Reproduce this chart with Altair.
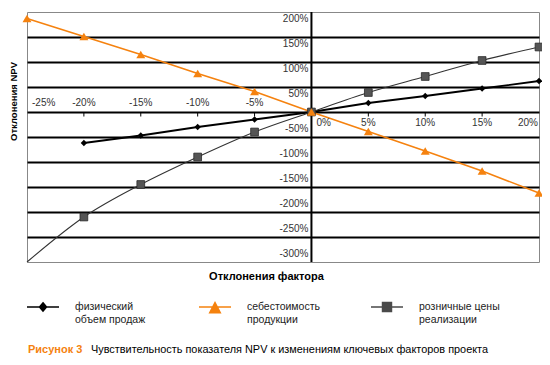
import altair as alt
import pandas as pd

FONT = "Liberation Sans"

# ---- data ----
factor = [-25, -20, -15, -10, -5, 0, 5, 10, 15, 20]
volume = [None, -62, -47, -30, -15, 0, 18, 32, 47, 62]        # физический объем продаж
cost = [187, 151, 115, 77, 41, 0, -39, -78, -118, -162]       # себестоимость продукции
price = [-300, -210, -145, -90, -40, 0, 39, 71, 103, 130]     # розничные цены реализации

series_names = ["физический|объем продаж", "себестоимость|продукции", "розничные цены|реализации"]
series_colors = ["#000000", "#F5820F", "#4A4A4A"]

x_ticks = [-25, -20, -15, -10, -5, 0, 5, 10, 15, 20]
x_tick_labels = ["-25%", "-20%", "-15%", "-10%", "-5%", "0%", "5%", "10%", "15%", "20%"]
y_ticks = [200, 150, 100, 50, -50, -100, -150, -200, -250, -300]
y_tick_labels = ["200%", "150%", "100%", "50%", "-50%", "-100%", "-150%", "-200%", "-250%", "-300%"]
grid_vals = [150, 100, 50, 0, -50, -100, -150, -200, -250]

x_title = "Отклонения фактора"
y_title = "Отклонения NPV"
caption_bold = ["Рисунок 3"]
caption_text = ["Чувствительность показателя NPV к изменениям ключевых факторов проекта"]

rows = []
for name, vals in zip(series_names, [volume, cost, price]):
    for f, v in zip(factor, vals):
        if v is not None:
            rows.append({"series": name, "factor": f, "value": v})
df = pd.DataFrame(rows)

xs = alt.Scale(domain=[-25, 20], nice=False, zero=False)
ys = alt.Scale(domain=[-300, 200], nice=False, zero=False)

AX_X = alt.Axis(
    title=x_title, labels=False, ticks=False, domain=False, grid=False,
    titleFont=FONT, titleFontSize=11, titleFontWeight="bold", titleColor="#000",
    titlePadding=8, titleX=239)
AX_Y = alt.Axis(
    title=y_title, values=grid_vals, labels=False, ticks=False, domain=False,
    grid=True, gridColor="#000", gridWidth=2, gridOpacity=1,
    titleFont=FONT, titleFontSize=9.5, titleFontWeight="bold", titleColor="#000",
    titleX=-14, titleY=89, titleBaseline="middle")

X = alt.X("factor:Q", scale=xs, axis=AX_X)
Y = alt.Y("value:Q", scale=ys, axis=AX_Y)

zero_v = alt.Chart(pd.DataFrame({"z": [0]})).mark_rule(color="#000", strokeWidth=2).encode(
    x=alt.X("z:Q", scale=xs, axis=AX_X)
)

tick_df = pd.DataFrame({"t": [t for t in x_ticks if t not in (-25, 0, 20)]})
x_tickmarks = alt.Chart(tick_df).mark_rule(color="#000", strokeWidth=1).encode(
    x=alt.X("t:Q", scale=xs, axis=AX_X),
    y=alt.YDatum(0, scale=ys, axis=AX_Y),
    y2=alt.Y2Datum(-9),
)

xlab_df = pd.DataFrame({"t": x_ticks, "label": x_tick_labels})


def xlabels(sel, align, baseline, dx, dy):
    d = xlab_df[xlab_df.t.isin(sel)]
    return alt.Chart(d).mark_text(
        align=align, baseline=baseline, dx=dx, dy=dy, font=FONT, fontSize=10, color="#333"
    ).encode(
        x=alt.X("t:Q", scale=xs, axis=AX_X),
        y=alt.YDatum(0, scale=ys, axis=AX_Y),
        text="label:N",
    )


ylab_df = pd.DataFrame({"v": y_ticks, "label": y_tick_labels})


def ylabels(pos, baseline, dy):
    d = ylab_df[(ylab_df.v > 0) if pos else (ylab_df.v < 0)]
    return alt.Chart(d).mark_text(
        align="right", baseline=baseline, dx=-3, dy=dy, font=FONT, fontSize=10, color="#333"
    ).encode(
        x=alt.XDatum(0, scale=xs, axis=AX_X),
        y=alt.Y("v:Q", scale=ys, axis=AX_Y),
        text="label:N",
    )


labels = [
    xlabels([-25], "left", "bottom", 5, -4),
    xlabels([-20, -15, -10, -5], "center", "bottom", 0, -4),
    xlabels([0], "left", "top", 5, 6),
    xlabels([5, 10, 15], "center", "top", 0, 6),
    xlabels([20], "right", "top", -1, 6),
    ylabels(True, "top", 2),
    ylabels(False, "bottom", -3),
]

s_vol, s_cost, s_price = series_names

line_vol = alt.Chart(df).transform_filter(alt.datum.series == s_vol).mark_line(
    color=series_colors[0], strokeWidth=1.8).encode(x=X, y=Y)
line_price = alt.Chart(df).transform_filter(alt.datum.series == s_price).mark_line(
    color="#333333", strokeWidth=1.1, interpolate="monotone").encode(x=X, y=Y)
line_cost = alt.Chart(df).transform_filter(alt.datum.series == s_cost).mark_line(
    color=series_colors[1], strokeWidth=1.6).encode(x=X, y=Y)

pt_vol = alt.Chart(df).transform_filter(alt.datum.series == s_vol).mark_point(
    shape="diamond", filled=True, size=40, color="#000", opacity=1).encode(x=X, y=Y)
pt_price = alt.Chart(df).transform_filter(
    (alt.datum.series == s_price) & (alt.datum.factor > -25)
).mark_point(shape="square", filled=True, size=60, fill="#555555", stroke="#2a2a2a",
             strokeWidth=0.8, opacity=1).encode(x=X, y=Y)
pt_cost = alt.Chart(df).transform_filter(alt.datum.series == s_cost).mark_point(
    shape="triangle-up", filled=True, size=80, color=series_colors[1], opacity=1).encode(x=X, y=Y)

legend_paths = [
    "M-1,0L1,0M0,-0.26L0.22,0L0,0.26L-0.22,0Z",
    "M-1,0L1,0M0,-0.28L0.33,0.36L-0.33,0.36Z",
    "M-1,0L1,0M-0.28,-0.28L0.28,-0.28L0.28,0.28L-0.28,0.28Z",
]

legend_layer = alt.Chart(df).mark_point(opacity=0).encode(
    x=X, y=Y,
    shape=alt.Shape("series:N", scale=alt.Scale(domain=series_names, range=legend_paths),
                    legend=alt.Legend(
                        title=None, orient="none", legendX=-1, legendY=278,
                        direction="horizontal", columns=3, gridAlign="all",
                        columnPadding=40, symbolSize=1024, symbolStrokeWidth=1.5,
                        symbolOpacity=1, labelExpr="split(datum.label, '|')",
                        labelFont=FONT, labelFontSize=10.5, labelColor="#222",
                        labelOffset=15, labelLimit=200)),
    fill=alt.Fill("series:N", scale=alt.Scale(domain=series_names, range=series_colors), legend=alt.Legend(title=None)),
    stroke=alt.Stroke("series:N", scale=alt.Scale(domain=series_names, range=series_colors), legend=alt.Legend(title=None)),
)

cap1 = alt.Chart(pd.DataFrame({"c": caption_bold})).mark_text(
    align="left", baseline="alphabetic", font=FONT, fontSize=11, fontWeight="bold", color="#F5820F"
).encode(x=alt.value(1), y=alt.value(341), text="c:N")
cap2 = alt.Chart(pd.DataFrame({"c": caption_text})).mark_text(
    align="left", baseline="alphabetic", font=FONT, fontSize=10.9, color="#000"
).encode(x=alt.value(64), y=alt.value(341), text="c:N")

chart = alt.layer(
    zero_v, x_tickmarks,
    line_vol, line_price, line_cost,
    pt_vol, pt_price, pt_cost,
    *labels, legend_layer, cap1, cap2,
).properties(
    width=512, height=250,
    autosize=alt.AutoSizeParams(type="none"),
    padding={"left": 19, "top": 4, "right": 3, "bottom": 95},
    background="white",
).configure_view(stroke="#888888", strokeWidth=1)

chart.save("out.html", embed_options={"renderer": "svg", "actions": False})
